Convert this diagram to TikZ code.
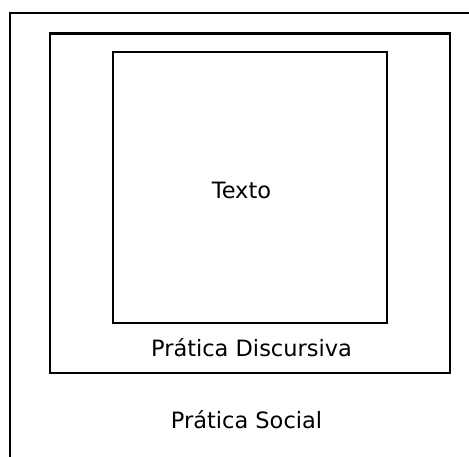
\documentclass[tikz,border=0pt]{standalone}
\usepackage{fontspec}
\setmainfont{DejaVu Sans}
\begin{document}
\begin{tikzpicture}[x=1pt,y=-1pt,
  frame/.style={draw=black,line width=2.2pt},
  lbl/.style={font=\fontsize{22.5}{26}\selectfont,anchor=base,inner sep=0pt}]
\useasboundingbox (0,0) rectangle (469,457);
\clip (0,0) rectangle (469,457);
\fill[white] (0,0) rectangle (469,457);
\draw[frame] (10,13) rectangle (490,480);
\draw[frame] (50,33.5) rectangle (450,373);
\draw[frame] (113,52) rectangle (387,323);
\node[lbl] (texto) at (241.5,199) {Texto};
\node[lbl] (pd) at (251.5,356) {Prática Discursiva};
\node[lbl] (ps) at (246.5,428.5) {Prática Social};
\end{tikzpicture}
\end{document}
